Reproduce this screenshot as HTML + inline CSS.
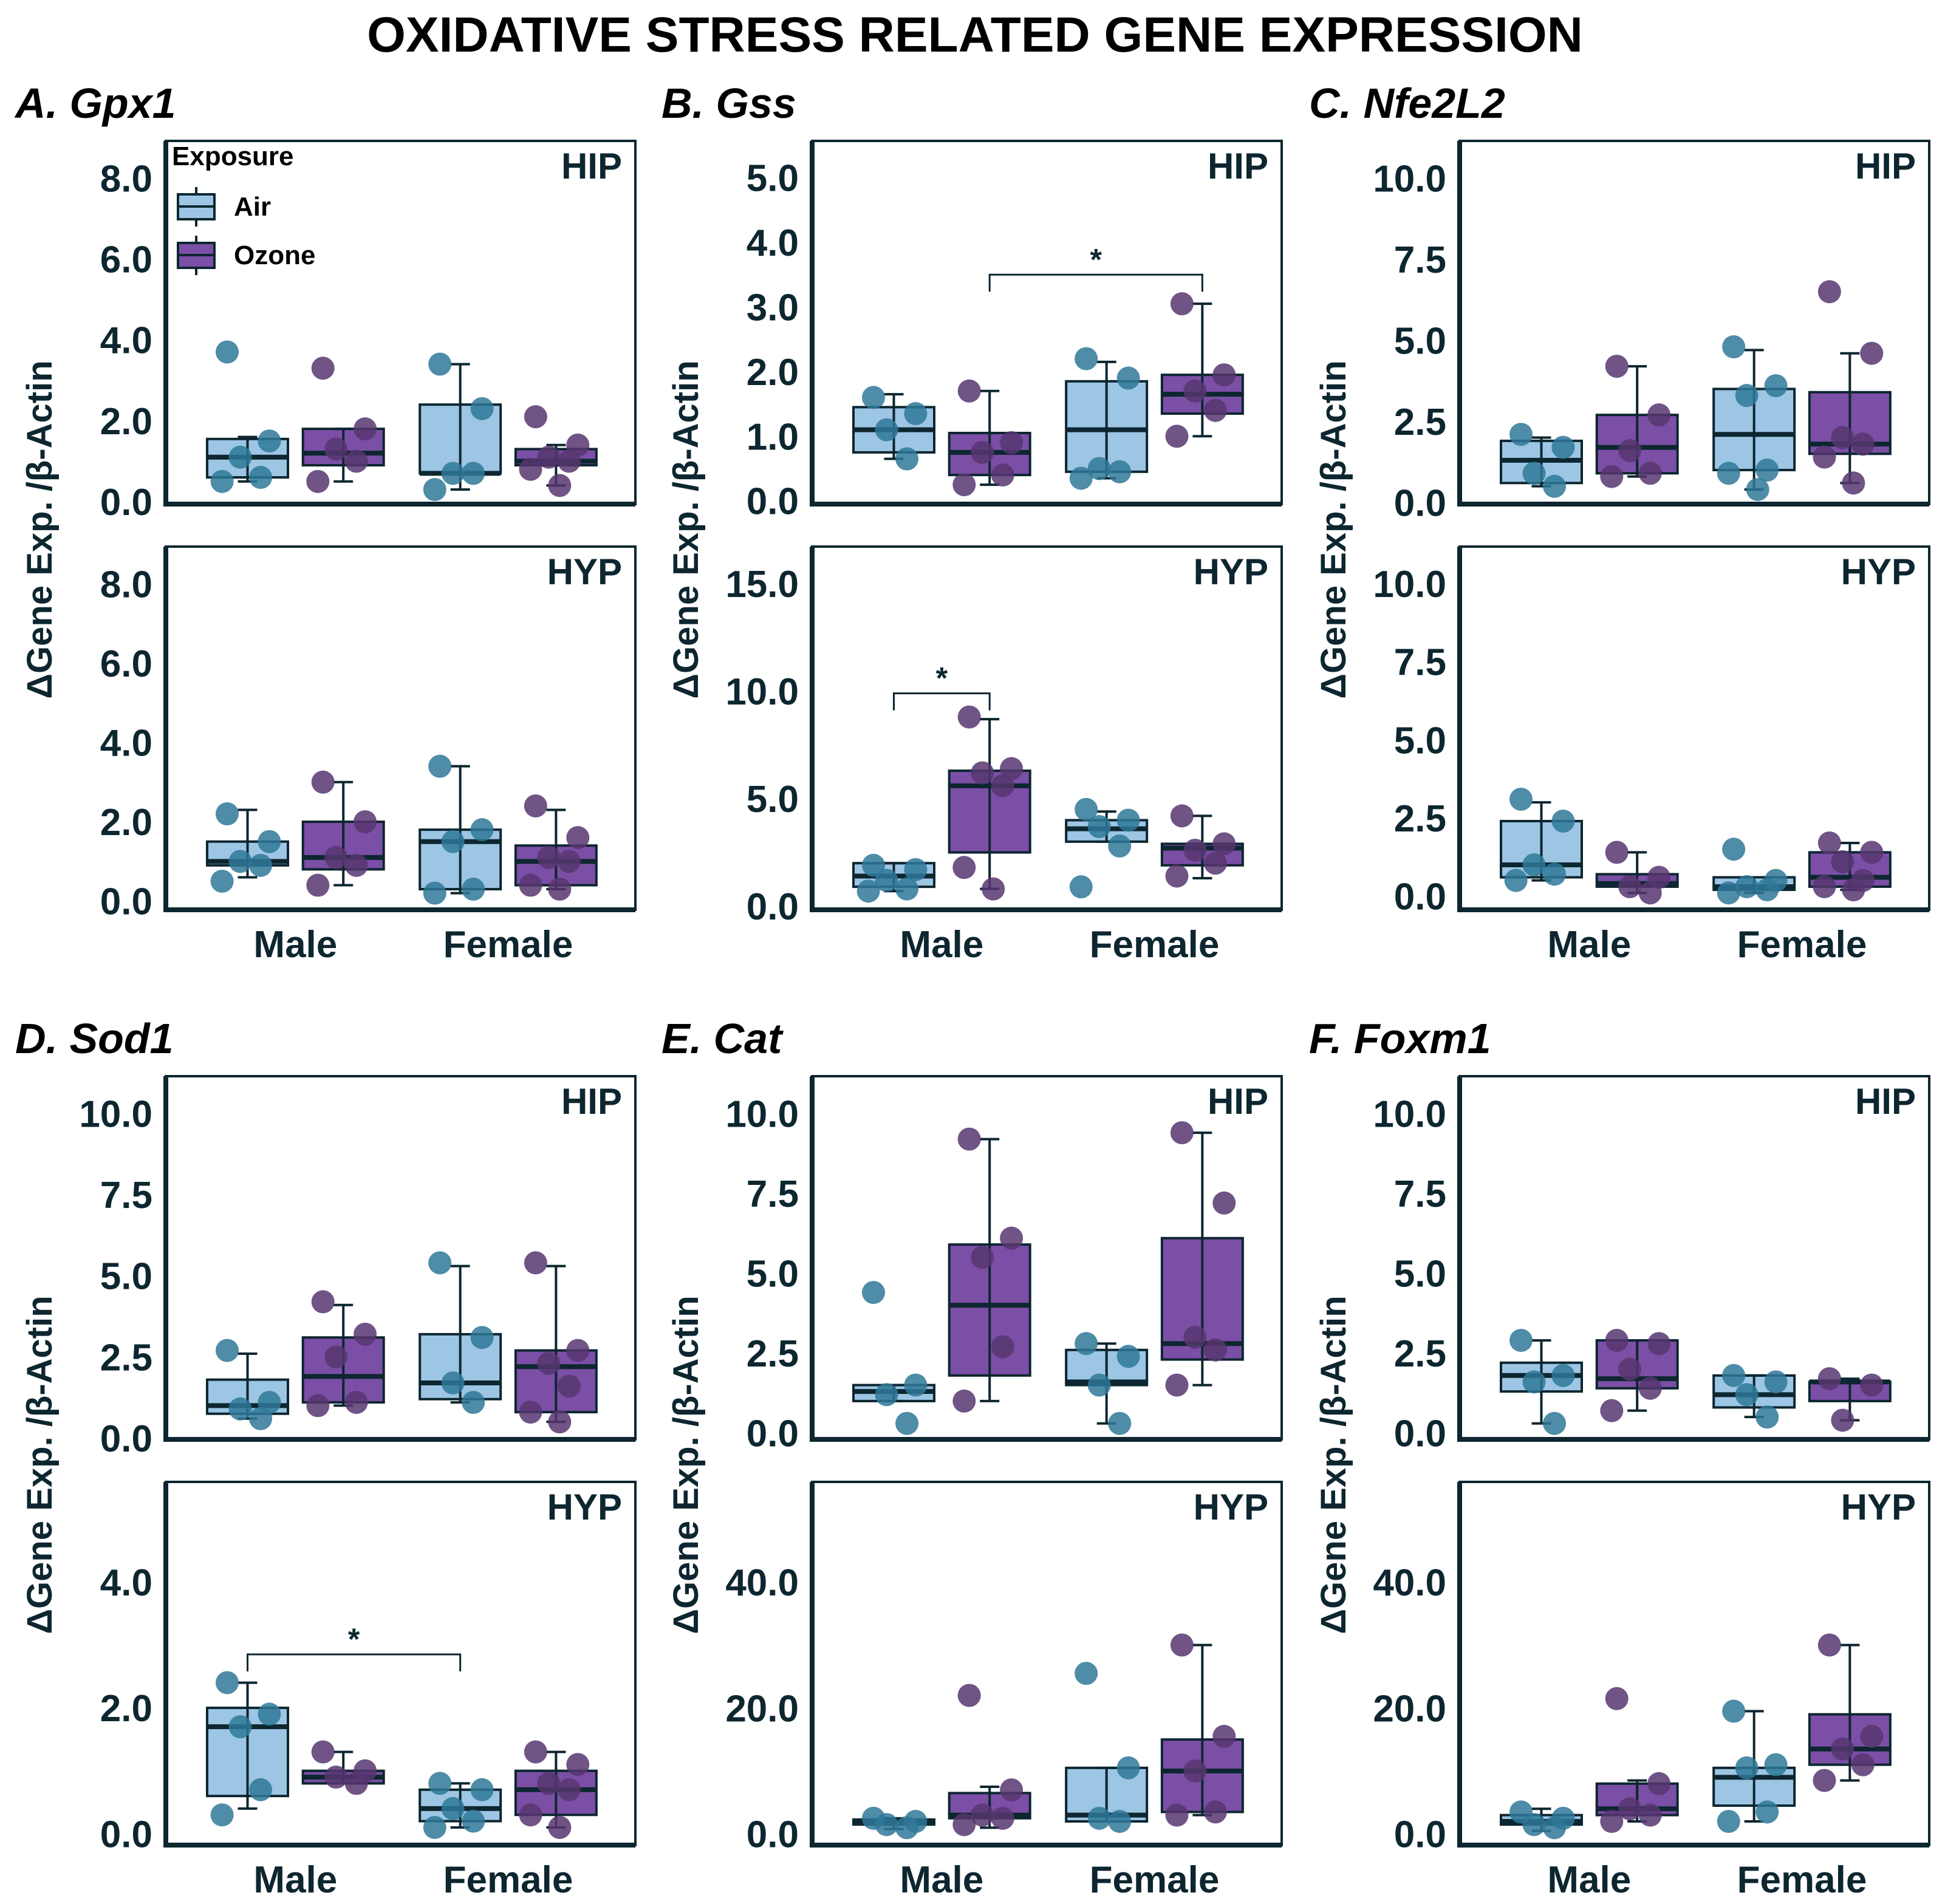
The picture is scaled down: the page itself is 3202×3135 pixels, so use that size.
<!DOCTYPE html>
<html><head><meta charset="utf-8"><style>
html,body{margin:0;padding:0;background:#fff}
svg{display:block}
text{font-family:"Liberation Sans",Arial,sans-serif;fill:#0d2630}
</style></head><body>
<svg id="fig" width="3202" height="3135" viewBox="0 0 3202 3135" xmlns="http://www.w3.org/2000/svg">
<text x="1605" y="85" font-size="82" font-weight="bold" text-anchor="middle" style="fill:#000">OXIDATIVE STRESS RELATED GENE EXPRESSION</text>
</svg>
<script>
// ---- data ----
const panelTitles = ["A. ", "B. ", "C. ", "D. ", "E. ", "F. "];
const geneNames = ["Gpx1", "Gss", "Nfe2L2", "Sod1", "Cat", "Foxm1"];
const groups = ["Male Air", "Male Ozone", "Female Air", "Female Ozone"];
const sexLabels = ["Male", "Female"];
const regionLabels = ["HIP", "HYP"];
const domHIP = [[-0.06,8.92],[-0.05,5.57],[-0.05,11.15],[-0.04,11.15],[-0.2,11.17],[-0.2,11.17]];
const domHYP = [[-0.22,8.94],[-0.17,16.73],[-0.44,11.19],[-0.18,5.59],[-1.76,55.9],[-1.76,55.9]];
const ticksHIP = [[0,2,4,6,8],[0,1,2,3,4,5],[0,2.5,5,7.5,10],[0,2.5,5,7.5,10],[0,2.5,5,7.5,10],[0,2.5,5,7.5,10]];
const ticksHYP = [[0,2,4,6,8],[0,5,10,15],[0,2.5,5,7.5,10],[0,2,4],[0,20,40],[0,20,40]];
const statsHIP = [
 [[0.5,0.6,1.1,1.55,1.6],[0.5,0.9,1.2,1.8,1.8],[0.3,0.7,0.7,2.4,3.4],[0.4,0.9,1.0,1.3,1.4]],
 [[0.65,0.75,1.1,1.45,1.65],[0.25,0.4,0.75,1.05,1.7],[0.35,0.45,1.1,1.85,2.15],[1.0,1.35,1.65,1.95,3.05]],
 [[0.5,0.6,1.3,1.9,2.0],[0.8,0.9,1.7,2.7,4.2],[0.4,1.0,2.1,3.5,4.7],[0.6,1.5,1.8,3.4,4.6]],
 [[0.6,0.75,1.0,1.8,2.6],[1.0,1.1,1.9,3.1,4.1],[1.1,1.2,1.7,3.2,5.3],[0.5,0.8,2.2,2.7,5.3]],
 [[1.0,1.0,1.3,1.5,1.5],[1.0,1.8,4.0,5.9,9.2],[0.3,1.5,1.6,2.6,2.8],[1.5,2.3,2.8,6.1,9.4]],
 [[0.3,1.3,1.8,2.2,2.9],[0.7,1.4,1.7,2.9,2.9],[0.5,0.8,1.2,1.8,1.8],[0.4,1.0,1.6,1.6,1.7]]
];
const statsHYP = [
 [[0.6,0.9,1.0,1.5,2.3],[0.4,0.8,1.1,2.0,3.0],[0.2,0.3,1.5,1.8,3.4],[0.3,0.4,1.0,1.4,2.3]],
 [[0.7,0.9,1.4,2.0,2.0],[0.8,2.5,5.6,6.3,8.7],[3.0,3.0,3.6,4.0,4.4],[1.3,1.9,2.7,2.9,4.2]],
 [[0.5,0.6,1.0,2.4,3.0],[0.1,0.3,0.4,0.7,1.4],[0.1,0.2,0.3,0.6,0.6],[0.2,0.3,0.6,1.4,1.7]],
 [[0.4,0.6,1.7,2.0,2.4],[0.8,0.8,0.9,1.0,1.3],[0.1,0.2,0.4,0.7,0.8],[0.1,0.3,0.7,1.0,1.3]],
 [[0.8,1.5,2.0,2.3,2.5],[1.0,2.5,3.0,6.5,7.5],[2.0,2.0,3.0,10.5,10.5],[3.0,3.5,10.0,15.0,30.0]],
 [[0.5,1.5,2.0,3.0,4.0],[2.0,3.0,4.0,8.0,8.5],[2.0,4.5,9.0,10.5,19.5],[8.5,11.0,13.5,19.0,30.0]]
];
const ptsHIP = [
 [[3.7,1.5,1.1,0.6,0.5],[3.3,1.8,1.3,1.0,0.5],[3.4,2.3,0.7,0.7,0.3],[2.1,1.4,1.1,1.0,0.8,0.4]],
 [[1.6,1.35,1.1,0.65],[1.7,0.9,0.75,0.4,0.25],[2.2,1.9,0.5,0.45,0.35],[3.05,1.95,1.7,1.4,1.0]],
 [[2.1,1.7,0.9,0.5],[4.2,2.7,1.6,0.9,0.8],[4.8,3.6,3.3,1.0,0.9,0.4],[6.5,4.6,2.0,1.8,1.4,0.6]],
 [[2.7,1.1,0.9,0.6],[4.2,3.2,2.5,1.1,1.0],[5.4,3.1,1.7,1.1],[5.4,2.7,2.3,1.6,0.8,0.5]],
 [[4.4,1.5,1.2,0.3],[9.2,6.1,5.5,2.7,1.0],[2.8,2.4,1.5,0.3],[9.4,7.2,3.0,2.6,1.5]],
 [[2.9,1.8,1.6,0.3],[2.9,2.8,2.0,1.4,0.7],[1.8,1.6,1.2,0.5],[1.7,1.5,0.4]]
];
const ptsHYP = [
 [[2.2,1.5,1.0,0.9,0.5],[3.0,2.0,1.1,0.9,0.4],[3.4,1.8,1.5,0.3,0.2],[2.4,1.6,1.1,1.0,0.4,0.3]],
 [[1.9,1.7,1.2,0.8,0.7],[8.8,6.4,6.2,5.6,1.8,0.8],[4.5,4.0,3.7,2.8,0.9],[4.2,2.9,2.6,2.0,1.4]],
 [[3.1,2.4,1.0,0.7,0.5],[1.4,0.6,0.3,0.1],[1.5,0.5,0.3,0.2,0.1],[1.7,1.4,1.1,0.5,0.3,0.2]],
 [[2.4,1.9,1.7,0.7,0.3],[1.3,1.0,0.9,0.8],[0.8,0.7,0.4,0.2,0.1],[1.3,1.1,0.8,0.7,0.3,0.1]],
 [[2.5,2.0,1.5,1.0],[22,7,3,2.5,1.5],[25.5,10.5,2.5,2],[30,15.5,10,3.5,3]],
 [[3.5,2.5,1.5,1.0],[21.5,8,4,3,2],[19.5,11,10.5,3.5,2],[30,15.5,13.5,11,8.5]]
];
const sigBrackets = [[1,0,1,3,3.5],[1,1,0,1,9.9],[3,1,0,2,2.85]];

// ---- layout ----
const NS = "http://www.w3.org/2000/svg";
const svg = document.getElementById("fig");
const colX = [273, 1337, 2403];
const rowY = [232, 1772];
const PW = 773, PH = 598, GAP = 70;
const groupFrac = [0.174, 0.378, 0.627, 0.831];
const BW = 133;
const fillC = ["#9dc6e4", "#7b4fa6", "#9dc6e4", "#7b4fa6"];
const ptC = ["#2f7898", "#573670", "#2f7898", "#573670"];
const ink = "#0d2630";
const jit = [-0.28, 0.3, -0.1, 0.18, -0.35, 0.05];

function mk(tag, attrs, parent) {
  const e = document.createElementNS(NS, tag);
  for (const k in attrs) e.setAttribute(k, attrs[k]);
  (parent || svg).appendChild(e);
  return e;
}
function fmt(v) { return v.toFixed(1); }

for (let p = 0; p < 6; p++) {
  const x0 = colX[p % 3], yTop = rowY[Math.floor(p / 3)];
  const ttl = mk("text", {x: x0 - 248, y: yTop - 38, "font-size": 70, "font-weight": "bold", "font-style": "italic"});
  
  
  ttl.style.fill = "#000";
  ttl.textContent = panelTitles[p] + geneNames[p];

  const yl = mk("text", {x: 0, y: 0, "font-size": 58, "font-weight": "bold", "text-anchor": "middle", transform: `translate(${x0 - 188},${yTop + 640}) rotate(-90)`});
  
  
  yl.textContent = "\u0394Gene Exp. /\u03B2-Actin";

  for (let r = 0; r < 2; r++) {
    const top = yTop + r * (PH + GAP), bot = top + PH;
    const dom = r ? domHYP[p] : domHIP[p];
    const ticks = r ? ticksHYP[p] : ticksHIP[p];
    const stats = r ? statsHYP[p] : statsHIP[p];
    const pts = r ? ptsHYP[p] : ptsHIP[p];
    const Y = v => bot - (v - dom[0]) / (dom[1] - dom[0]) * PH;
    const X = g => x0 + groupFrac[g] * PW;
    const g0 = mk("g", {});
    
    

    ticks.forEach(t => {
      const tl = mk("text", {x: x0 - 22, y: Y(t) + 22, "font-size": 62, "font-weight": "bold", "text-anchor": "end"}, g0);
      
      
      tl.textContent = fmt(t);
    });

    const rl = mk("text", {x: x0 + PW - 22, y: top + 62, "font-size": 60, "font-weight": "bold", "text-anchor": "end"}, g0);
    
    
    rl.textContent = regionLabels[r];

    stats.forEach((s, g) => {
      const cx = X(g);
      const bx = mk("rect", {x: cx - BW / 2, y: Y(s[3]), width: BW, height: Math.max(Y(s[1]) - Y(s[3]), 1), fill: fillC[g], stroke: ink, "stroke-width": 4}, g0);
      
      
      const md = mk("line", {x1: cx - BW / 2, x2: cx + BW / 2, y1: Y(s[2]), y2: Y(s[2]), stroke: ink, "stroke-width": 8}, g0);
      
      
      const wx = cx;
      const wk = mk("path", {d: `M${wx},${Y(s[0])}V${Y(s[4])}M${wx - 16},${Y(s[0])}H${wx + 16}M${wx - 16},${Y(s[4])}H${wx + 16}`, stroke: ink, "stroke-width": 4, fill: "none"}, g0);
      
      
      pts[g].forEach((v, i) => {
        const c = mk("circle", {cx: cx + jit[i % jit.length] * BW * 0.9, cy: Y(v), r: 19, fill: ptC[g], "fill-opacity": 0.85}, g0);
        
        
      });
    });

    sigBrackets.filter(b => b[0] === p && b[1] === r).forEach(b => {
      const ya = Y(b[4]), xa = X(b[2]), xb = X(b[3]);
      const br = mk("path", {d: `M${xa},${ya + 28}V${ya}H${xb}V${ya + 28}`, stroke: ink, "stroke-width": 3, fill: "none"}, g0);
      
      
      const st = mk("text", {x: (xa + xb) / 2, y: ya - 8, "font-size": 50, "font-weight": "bold", "text-anchor": "middle"}, g0);
      
      
      st.textContent = "*";
    });

    const fr = mk("rect", {x: x0, y: top, width: PW, height: PH, fill: "none", stroke: ink, "stroke-width": 4}, g0);
    
    
    const ax = mk("path", {d: `M${x0},${top}V${bot}H${x0 + PW}`, stroke: ink, "stroke-width": 8, fill: "none"}, g0);
    
    
  }
  sexLabels.forEach((s, i) => {
    const cx = x0 + (groupFrac[i * 2] + groupFrac[i * 2 + 1]) / 2 * PW;
    const xl = mk("text", {x: cx, y: yTop + 2 * PH + GAP + 78, "font-size": 62, "font-weight": "bold", "text-anchor": "middle"});
    
    
    xl.textContent = s;
  });
}

const lg = mk("g", {});


const lt = mk("text", {x: 283, y: 272, "font-size": 44, "font-weight": "bold"}, lg);


lt.style.fill = "#000";
lt.textContent = "Exposure";
["Air", "Ozone"].forEach((n, i) => {
  const ky = 320 + i * 80;
  const kp = mk("path", {d: `M323,${ky - 12}V${ky + 53}`, stroke: ink, "stroke-width": 4}, lg);
  
  
  const kr = mk("rect", {x: 293, y: ky, width: 60, height: 41, fill: fillC[i], stroke: ink, "stroke-width": 4}, lg);
  
  
  const km = mk("line", {x1: 293, x2: 353, y1: ky + 20, y2: ky + 20, stroke: ink, "stroke-width": 4}, lg);
  
  
  const tx = mk("text", {x: 385, y: ky + 35, "font-size": 44, "font-weight": "bold"}, lg);
  
  
  tx.style.fill = "#000";
  tx.textContent = n;
});
</script>
</body></html>
